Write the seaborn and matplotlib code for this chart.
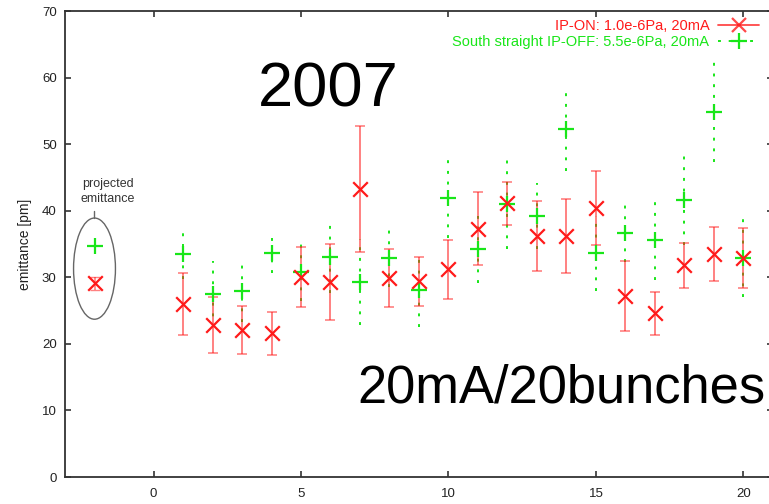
import numpy as np
import pandas as pd
import seaborn as sns
import matplotlib.pyplot as plt
from matplotlib.patches import Ellipse
from matplotlib.lines import Line2D

# bunch index along the train
bunch = list(range(1, 21))

# IP-ON: 1.0e-6Pa, 20mA
on_y = [26.0, 22.8, 22.1, 21.6, 30.0, 29.3, 43.3, 29.9, 29.4, 31.2,
        37.3, 41.1, 36.2, 36.2, 40.4, 27.2, 24.6, 31.8, 33.5, 32.9]
on_err = [4.7, 4.2, 3.6, 3.2, 4.5, 5.7, 9.5, 4.3, 3.7, 4.4,
          5.5, 3.2, 5.3, 5.5, 5.5, 5.3, 3.2, 3.4, 4.0, 4.5]

# South straight IP-OFF: 5.5e-6Pa, 20mA
off_y = [33.5, 27.5, 27.9, 33.6, 30.8, 33.0, 29.3, 32.9, 28.1, 41.9,
         34.2, 41.0, 39.2, 52.3, 33.6, 36.7, 35.6, 41.6, 54.8, 32.9]
off_err = [3.7, 4.9, 4.6, 3.0, 4.3, 5.4, 6.5, 4.4, 5.5, 6.0,
           5.0, 6.8, 5.0, 6.3, 5.6, 4.4, 6.0, 6.8, 7.5, 5.9]

# projected emittance, drawn at x = -2
proj_x = [-2]
proj_on = [29.1]
proj_on_err = [1.0]
proj_off = [34.7]

label_on = "IP-ON: 1.0e-6Pa, 20mA"
label_off = "South straight IP-OFF: 5.5e-6Pa, 20mA"

red = "#ff1a1a"
green = "#19e619"
dots = (0, (1.5, 4))

df = pd.DataFrame({"bunch": bunch, "on": on_y, "on_err": on_err,
                   "off": off_y, "off_err": off_err})

sns.set_theme(style="ticks")
plt.rcParams["font.family"] = ["Liberation Sans", "DejaVu Sans"]

fig = plt.figure(figsize=(7.69, 5.04), dpi=100)
ax = fig.add_axes([65 / 769, 27 / 504, 708 / 769, 466 / 504])

# error bars first, markers on top
eb_off = ax.errorbar(df["bunch"], df["off"], yerr=df["off_err"], fmt="none",
                     ecolor=green, elinewidth=1.4, capsize=0)
for lc in eb_off.lines[2]:
    lc.set_linestyle(dots)
ax.errorbar(df["bunch"], df["on"], yerr=df["on_err"], fmt="none",
            ecolor=red, alpha=0.55, elinewidth=1.4, capsize=3.5, capthick=1.2)
ax.errorbar(proj_x, proj_on, yerr=proj_on_err, fmt="none",
            ecolor=red, alpha=0.55, elinewidth=1.2, capsize=3.5)

sns.scatterplot(data=df, x="bunch", y="off", marker="+", color=green,
                s=140, linewidth=1.6, ax=ax, zorder=3)
sns.scatterplot(data=df, x="bunch", y="on", marker="x", color=red,
                s=110, linewidth=1.6, ax=ax, zorder=4)
sns.scatterplot(x=proj_x, y=proj_off, marker="+", color=green,
                s=140, linewidth=1.6, ax=ax, zorder=3)
sns.scatterplot(x=proj_x, y=proj_on, marker="x", color=red,
                s=110, linewidth=1.6, ax=ax, zorder=4)

# ellipse around projected emittance
ax.add_patch(Ellipse((-2, 31.3), 1.42, 15.2, fill=False,
                     edgecolor="#666666", linewidth=1.0))
ax.plot([-2.03, -2.03], [38.9, 39.9], color="#666666", linewidth=1.0)
ax.text(-1.55, 42.9, "projected\nemittance", ha="center", va="center",
        fontsize=9, color="#333333", linespacing=1.25)

ax.text(3.55, 55.6, "2007", fontsize=45.5, color="black",
        va="baseline", ha="left")
ax.text(6.9, 11.2, "20mA/20bunches", fontsize=37.8, color="black",
        va="baseline", ha="left")

ax.set_xlim(-3, 21)
ax.set_ylim(0, 70)
ax.set_xticks([0, 5, 10, 15, 20])
ax.set_yticks(range(0, 71, 10))
ax.set_xlabel("")
ax.set_ylabel("emittance [pm]", fontsize=10, color="#222222", labelpad=7)
ax.tick_params(direction="in", top=True, right=True, length=4, width=1.2,
               colors="#333333", labelsize=9.5, labelcolor="#222222")
ax.tick_params(axis="x", pad=8)
ax.tick_params(axis="y", pad=6)
for sp in ax.spines.values():
    sp.set_color("#333333")
    sp.set_linewidth(1.3)

handles = [
    Line2D([], [], color=red, marker="x", markersize=10, markeredgewidth=1.6,
           linestyle="-", linewidth=1.3, alpha=0.8),
    Line2D([], [], color=green, marker="+", markersize=11, markeredgewidth=1.6,
           linestyle=dots, linewidth=1.4),
]
leg = ax.legend(handles, [label_on, label_off], loc="upper right",
                bbox_to_anchor=(759 / 769, 1 - 19 / 504),
                bbox_transform=fig.transFigure, frameon=False,
                markerfirst=False, fontsize=10.5, handlelength=2.8,
                handletextpad=0.6, labelspacing=0.12, borderpad=0,
                borderaxespad=0)
for t, c in zip(leg.get_texts(), [red, green]):
    t.set_color(c)

fig.savefig("out.png", dpi=100)
